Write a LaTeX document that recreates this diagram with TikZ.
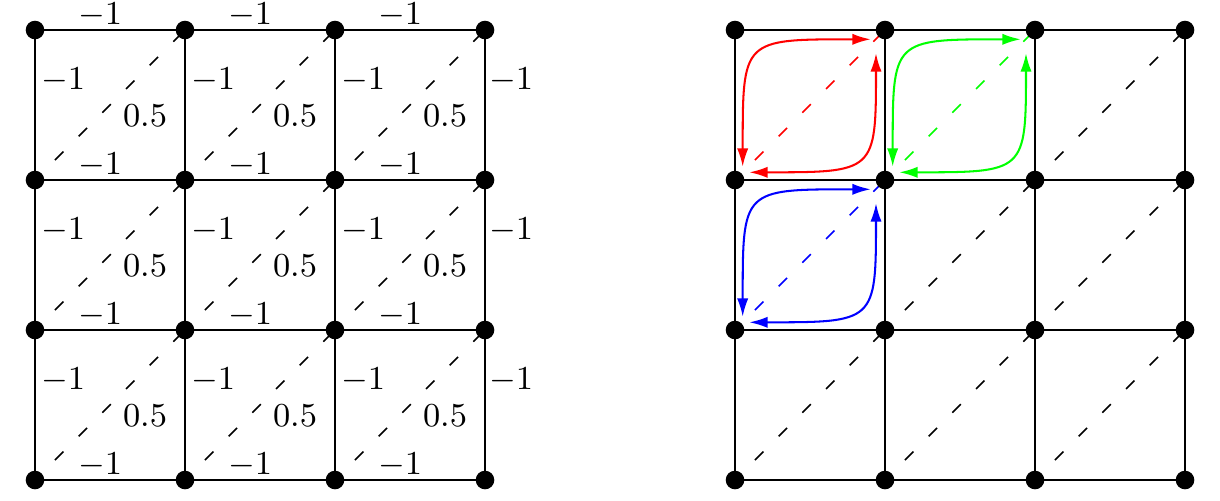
\documentclass[tikz,border=0pt]{standalone}
\usetikzlibrary{arrows.meta,backgrounds}
\definecolor{cred}{RGB}{255,0,0}
\definecolor{cgreen}{RGB}{0,255,0}
\definecolor{cblue}{RGB}{0,0,255}
\tikzset{
  dot/.style={circle, fill=black, inner sep=0pt, minimum size=5pt},
  hline/.style={line width=0.6pt},
  vline/.style={line width=0.28pt},
  rline/.style={line width=0.6pt},
  diag/.style={line width=0.4pt, dash pattern=on 3.2pt off 5.8pt, dash phase=1.4pt},
  lab/.style={anchor=base, inner sep=0pt, font=\fontsize{9}{11}\selectfont},
  dbl/.style={line width=0.55pt, {Latex[length=4.9pt,width=3pt]}-{Latex[length=4.9pt,width=3pt]}},
}
\begin{document}
\begin{tikzpicture}[x=0.2688pt, y=-0.2688pt]
\useasboundingbox (0,0) rectangle (1220,500);
% dots
\foreach \i in {0,1,2,3} \foreach \j in {0,1,2,3} {
  \node[dot] (l\i\j) at (35+150*\i,30+150*\j) {};
  \node[dot] (r\i\j) at (735+150*\i,30+150*\j) {};
}
\begin{scope}[on background layer]
% grids
\foreach \i/\ii in {0/1,1/2,2/3} \foreach \j in {0,1,2,3} {
  \draw[hline] (l\i\j.center) -- (l\ii\j.center);
  \draw[rline] (r\i\j.center) -- (r\ii\j.center);
}
\foreach \i in {0,1,2,3} \foreach \j/\jj in {0/1,1/2,2/3} {
  \draw[vline] (l\i\j.center) -- (l\i\jj.center);
  \draw[rline] (r\i\j.center) -- (r\i\jj.center);
}
% diagonals
\foreach \i/\ii in {0/1,1/2,2/3} \foreach \j/\jj in {0/1,1/2,2/3} {
  \draw[diag] (l\i\jj.center) -- (l\ii\j.center);
}
\draw[diag] (r12.center) -- (r21.center);
\draw[diag] (r21.center) -- (r30.center);
\draw[diag] (r03.center) -- (r12.center);
\draw[diag] (r13.center) -- (r22.center);
\draw[diag] (r22.center) -- (r31.center);
\draw[diag] (r23.center) -- (r32.center);
\draw[diag, cred] (r01.center) -- (r10.center);
\draw[diag, cgreen] (r11.center) -- (r20.center);
\draw[diag, cblue] (r02.center) -- (r11.center);
\end{scope}
% labels left grid
\foreach \i in {0,1,2} \foreach \j in {0,1,2,3} {
  \node[lab] (h\i\j) at (100+150*\i,24.5+150*\j) {$-1$};
}
\foreach \i in {0,1,2} \foreach \j in {0,1,2} {
  \node[lab] (v\i\j) at (63+150*\i,89+150*\j) {$-1$};
  \node[lab] (w\i\j) at (145+150*\i,126.7+150*\j) {$0.5$};
}
\foreach \j in {0,1,2} {
  \node[lab] (e\j) at (511,89+150*\j) {$-1$};
}
% coloured loops
\foreach \bl/\tr/\c in {r01/r10/cred, r11/r20/cgreen, r02/r11/cblue} {
  \draw[dbl, \c] ([shift={(7.7,-13.3)}]\bl.center) .. controls +(0,-128) and +(-129,0) .. ([shift={(-14.3,9.3)}]\tr.center);
  \draw[dbl, \c] ([shift={(14.3,-7.7)}]\bl.center) .. controls +(126,0) and +(0,119) .. ([shift={(-9,23.3)}]\tr.center);
}
\end{tikzpicture}
\end{document}
